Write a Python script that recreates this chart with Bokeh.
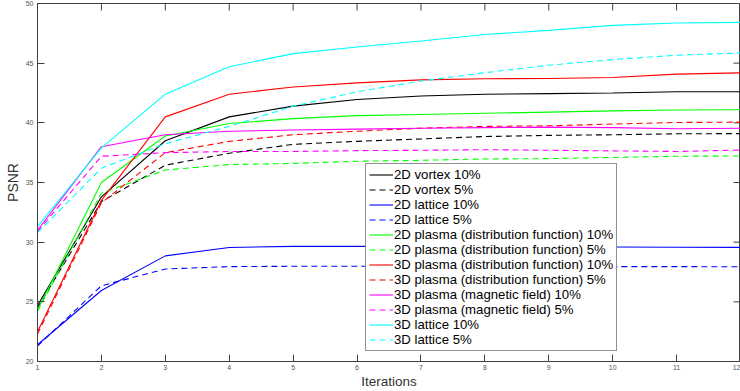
import math
from bokeh.plotting import figure
from bokeh.models import FixedTicker, Legend
from bokeh.embed import file_html
from bokeh.resources import INLINE

iterations = [1, 2, 3, 4, 5, 6, 7, 8, 9, 10, 11, 12]
x_ticks = [1, 2, 3, 4, 5, 6, 7, 8, 9, 10, 11, 12]
y_ticks = [20, 25, 30, 35, 40, 45, 50]

vortex2d_10 = [24.7, 33.8, 38.5, 40.5, 41.4, 41.95, 42.25, 42.4, 42.45, 42.5, 42.6, 42.6]
vortex2d_5 = [24.5, 33.4, 36.45, 37.45, 38.2, 38.45, 38.65, 38.85, 38.95, 39.0, 39.08, 39.1]
lattice2d_10 = [21.4, 25.95, 28.85, 29.55, 29.65, 29.65, 29.65, 29.65, 29.65, 29.6, 29.58, 29.56]
lattice2d_5 = [21.3, 26.35, 27.75, 27.95, 27.98, 27.98, 27.98, 27.97, 27.96, 27.95, 27.95, 27.94]
plasma2d_10 = [24.3, 35.0, 38.9, 39.95, 40.35, 40.6, 40.7, 40.8, 40.9, 41.0, 41.08, 41.1]
plasma2d_5 = [24.2, 34.1, 36.05, 36.5, 36.6, 36.78, 36.86, 36.97, 37.0, 37.1, 37.2, 37.22]
plasma3d_dist_10 = [22.5, 33.5, 40.5, 42.4, 43.0, 43.35, 43.6, 43.7, 43.72, 43.8, 44.08, 44.19]
plasma3d_dist_5 = [22.3, 33.3, 37.5, 38.45, 39.0, 39.3, 39.55, 39.7, 39.75, 39.9, 40.03, 40.06]
plasma3d_mag_10 = [31.0, 38.0, 39.0, 39.3, 39.4, 39.47, 39.55, 39.6, 39.64, 39.6, 39.5, 39.55]
plasma3d_mag_5 = [30.9, 37.2, 37.5, 37.6, 37.6, 37.67, 37.7, 37.75, 37.7, 37.65, 37.6, 37.72]
lattice3d_10 = [31.3, 37.9, 42.4, 44.7, 45.8, 46.36, 46.86, 47.4, 47.75, 48.17, 48.36, 48.42]
lattice3d_5 = [30.8, 36.2, 38.25, 39.7, 41.4, 42.6, 43.5, 44.2, 44.83, 45.3, 45.67, 45.86]

series = [
    ("2D vortex 10%", vortex2d_10, "#000000", "solid"),
    ("2D vortex 5%", vortex2d_5, "#000000", "6 4"),
    ("2D lattice 10%", lattice2d_10, "#0000ff", "solid"),
    ("2D lattice 5%", lattice2d_5, "#0000ff", "6 4"),
    ("2D plasma (distribution function) 10%", plasma2d_10, "#00ff00", "solid"),
    ("2D plasma (distribution function) 5%", plasma2d_5, "#00ff00", "6 4"),
    ("3D plasma (distribution function) 10%", plasma3d_dist_10, "#ff0000", "solid"),
    ("3D plasma (distribution function) 5%", plasma3d_dist_5, "#ff0000", "6 4"),
    ("3D plasma (magnetic field) 10%", plasma3d_mag_10, "#ff00ff", "solid"),
    ("3D plasma (magnetic field) 5%", plasma3d_mag_5, "#ff00ff", "6 4"),
    ("3D lattice 10%", lattice3d_10, "#00ffff", "solid"),
    ("3D lattice 5%", lattice3d_5, "#00ffff", "6 4"),
]

FONT = "Liberation Sans"
AX = "#404040"
X_MIN, X_MAX = x_ticks[0], x_ticks[-1]
Y_MIN, Y_MAX = y_ticks[0], y_ticks[-1]

p = figure(width=740, height=391, x_range=(X_MIN, X_MAX), y_range=(Y_MIN, Y_MAX),
           output_backend="svg", toolbar_location=None,
           min_border_left=37, min_border_right=0, min_border_top=3, min_border_bottom=28,
           x_axis_label="Iterations", y_axis_label="PSNR")
p.outline_line_color = AX
p.outline_line_width = 1
p.xgrid.visible = False
p.ygrid.visible = False
p.background_fill_color = "white"
p.border_fill_color = "white"

def style_axis(ax, ticks):
    ax.ticker = FixedTicker(ticks=ticks)
    ax.major_tick_in = 7
    ax.major_tick_out = 0
    ax.minor_tick_in = 0
    ax.minor_tick_out = 0
    ax.axis_line_color = AX
    ax.major_tick_line_color = AX
    ax.axis_line_width = 1

for ax in p.xaxis:
    style_axis(ax, x_ticks)
    ax.major_label_text_font = FONT
    ax.major_label_text_font_size = "7px"
    ax.major_label_text_color = "#555555"
    ax.major_label_standoff = 3
    ax.axis_label_text_font = FONT
    ax.axis_label_text_font_size = "13.5px"
    ax.axis_label_text_font_style = "normal"
    ax.axis_label_text_color = "#333333"
    ax.axis_label_standoff = 1

for ax in p.yaxis:
    style_axis(ax, y_ticks)
    ax.major_label_text_font = FONT
    ax.major_label_text_font_size = "7px"
    ax.major_label_text_color = "#555555"
    ax.major_label_standoff = 4
    ax.axis_label_text_font = FONT
    ax.axis_label_text_font_size = "14px"
    ax.axis_label_text_font_style = "normal"
    ax.axis_label_text_color = "#333333"
    ax.axis_label_standoff = 2

# inward ticks on the top and right edges of the box (MATLAB style)
p.ray(x=x_ticks, y=[Y_MAX] * len(x_ticks), length=7, length_units="screen",
      angle=-math.pi / 2, line_color=AX, line_width=1)
p.ray(x=[X_MAX] * len(y_ticks), y=y_ticks, length=7, length_units="screen",
      angle=math.pi, line_color=AX, line_width=1)

items = []
for name, vals, color, dash in series:
    r = p.line(iterations, vals, line_color=color, line_width=1.1, line_dash=dash)
    items.append((name, [r]))

legend = Legend(items=items, location=(328, 10))
legend.label_text_font = FONT
legend.label_text_font_size = "13.2px"
legend.label_text_color = "#000000"
legend.label_height = 15
legend.glyph_height = 15
legend.glyph_width = 24
legend.label_standoff = 1
legend.spacing = 0
legend.padding = 3
legend.margin = 0
legend.border_line_color = "#222222"
legend.border_line_width = 1
legend.background_fill_color = "white"
legend.background_fill_alpha = 1.0
p.add_layout(legend, "center")

open("out.html", "w").write(file_html(p, INLINE))
